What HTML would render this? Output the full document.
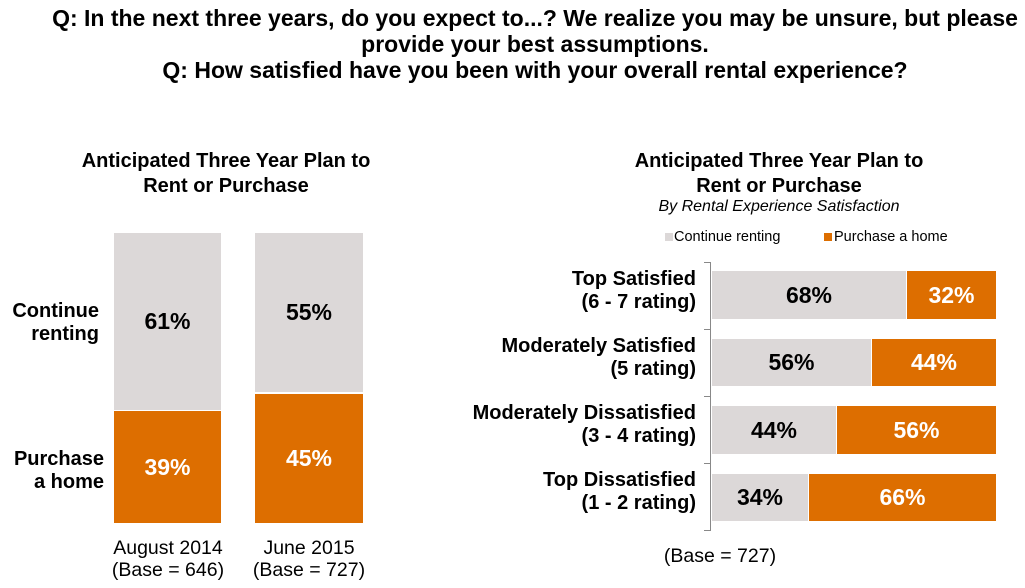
<!DOCTYPE html>
<html><head><meta charset="utf-8"><style>
body{margin:0;width:1025px;height:588px;background:#fff;position:relative;overflow:hidden;font-family:"Liberation Sans",Arial,sans-serif;color:#000}
.a{position:absolute}
.t{font-weight:bold;font-size:23px;text-align:center;line-height:26px}
.ct{font-weight:bold;font-size:20px;text-align:center;line-height:25px}
.g{background:#dcd8d8}.o{background:#dd6e00}
.v{font-weight:bold;font-size:23px;display:flex;align-items:center;justify-content:center}
.w{color:#fff}
.lab{font-weight:bold;font-size:20px;text-align:right;line-height:23px}
.n{font-size:19.5px;text-align:center;line-height:22px}
</style></head><body>
<div class="a t" style="left:0;width:1070px;top:5px">Q: In the next three years, do you expect to...? We realize you may be unsure, but please<br>provide your best assumptions.<br>Q: How satisfied have you been with your overall rental experience?</div>

<div class="a ct" style="left:56px;width:340px;top:149px">Anticipated Three Year Plan to<br>Rent or Purchase</div>
<div class="a ct" style="left:609px;width:340px;top:149px">Anticipated Three Year Plan to<br>Rent or Purchase</div>
<div class="a" style="left:609px;width:340px;top:198px;font-size:16px;font-style:italic;text-align:center">By Rental Experience Satisfaction</div>

<div class="a lab" style="left:0;width:99px;top:300px">Continue<br>renting</div>
<div class="a lab" style="left:0;width:104px;top:448px">Purchase<br>a home</div>

<div class="a g v" style="left:114px;top:233px;width:107px;height:177px">61%</div>
<div class="a o v w" style="left:114px;top:411px;width:107px;height:112px">39%</div>
<div class="a g v" style="left:255px;top:233px;width:108px;height:159px">55%</div>
<div class="a o v w" style="left:255px;top:394px;width:108px;height:129px">45%</div>
<div class="a n" style="left:78px;width:180px;top:537px">August 2014<br>(Base = 646)</div>
<div class="a n" style="left:219px;width:180px;top:537px">June 2015<br>(Base = 727)</div>

<div class="a" style="left:665px;top:233px;width:8px;height:8px;background:#dcd8d8"></div>
<div class="a" style="left:674px;top:229px;font-size:14.5px">Continue renting</div>
<div class="a" style="left:824px;top:233px;width:8px;height:8px;background:#dd6e00"></div>
<div class="a" style="left:834px;top:229px;font-size:14.5px">Purchase a home</div>

<div class="a" style="left:710px;top:262px;width:1px;height:269px;background:#888"></div>
<div class="a" style="left:704px;top:262px;width:7px;height:1px;background:#888"></div>
<div class="a" style="left:704px;top:329px;width:7px;height:1px;background:#888"></div>
<div class="a" style="left:704px;top:396px;width:7px;height:1px;background:#888"></div>
<div class="a" style="left:704px;top:463px;width:7px;height:1px;background:#888"></div>
<div class="a" style="left:704px;top:530px;width:7px;height:1px;background:#888"></div>

<div class="a lab" style="left:380px;width:316px;top:268px">Top Satisfied<br>(6 - 7 rating)</div>
<div class="a lab" style="left:380px;width:316px;top:335px">Moderately Satisfied<br>(5 rating)</div>
<div class="a lab" style="left:380px;width:316px;top:402px">Moderately Dissatisfied<br>(3 - 4 rating)</div>
<div class="a lab" style="left:380px;width:316px;top:469px">Top Dissatisfied<br>(1 - 2 rating)</div>

<div class="a g v" style="left:712px;top:271px;width:194px;height:48px">68%</div>
<div class="a o v w" style="left:907px;top:271px;width:89px;height:48px">32%</div>
<div class="a g v" style="left:712px;top:339px;width:159px;height:47px">56%</div>
<div class="a o v w" style="left:872px;top:339px;width:124px;height:47px">44%</div>
<div class="a g v" style="left:712px;top:406px;width:124px;height:48px">44%</div>
<div class="a o v w" style="left:837px;top:406px;width:159px;height:48px">56%</div>
<div class="a g v" style="left:712px;top:474px;width:96px;height:47px">34%</div>
<div class="a o v w" style="left:809px;top:474px;width:187px;height:47px">66%</div>

<div class="a n" style="left:630px;width:180px;top:545px">(Base = 727)</div>
</body></html>
